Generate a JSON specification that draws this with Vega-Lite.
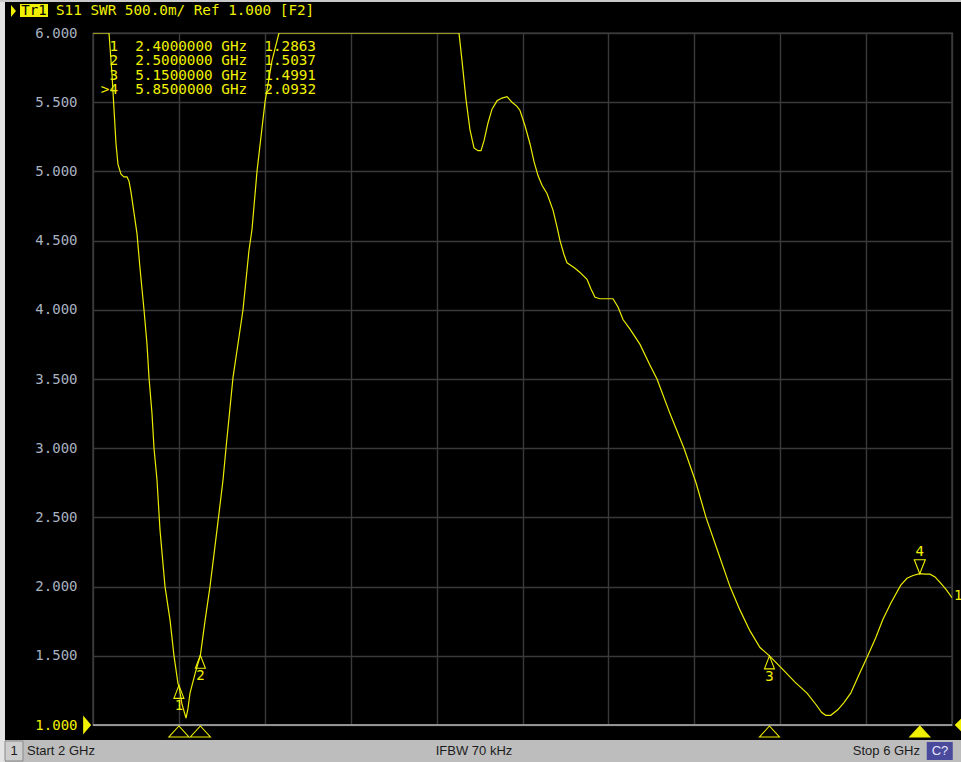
{
  "$schema": "https://vega.github.io/schema/vega-lite/v6.json",
  "width": 859,
  "height": 692,
  "autosize": {"type": "none"},
  "padding": {"left": 93, "top": 33, "right": 9, "bottom": 37},
  "background": "#000000",
  "config": {
    "view": {"stroke": "#8a8a8a", "strokeWidth": 1.2},
    "text": {"font": "DejaVu Sans Mono"}
  },
  "datasets": {
    "trace": [
      {"f": 2.0, "swr": 6.0}, {"f": 2.0745, "swr": 6.0}, {"f": 2.0885, "swr": 5.7}, {"f": 2.0978, "swr": 5.45},
      {"f": 2.1071, "swr": 5.2}, {"f": 2.1164, "swr": 5.05}, {"f": 2.1304, "swr": 4.98}, {"f": 2.1444, "swr": 4.96},
      {"f": 2.1583, "swr": 4.96}, {"f": 2.1676, "swr": 4.93}, {"f": 2.177, "swr": 4.85}, {"f": 2.1909, "swr": 4.7},
      {"f": 2.2049, "swr": 4.55}, {"f": 2.2189, "swr": 4.3}, {"f": 2.2375, "swr": 4.0}, {"f": 2.2515, "swr": 3.75},
      {"f": 2.2608, "swr": 3.51}, {"f": 2.2747, "swr": 3.25}, {"f": 2.2841, "swr": 3.0}, {"f": 2.298, "swr": 2.77},
      {"f": 2.312, "swr": 2.41}, {"f": 2.3353, "swr": 2.0}, {"f": 2.3586, "swr": 1.76}, {"f": 2.3772, "swr": 1.5},
      {"f": 2.3958, "swr": 1.3}, {"f": 2.4, "swr": 1.2863}, {"f": 2.4144, "swr": 1.15}, {"f": 2.4331, "swr": 1.05},
      {"f": 2.4424, "swr": 1.12}, {"f": 2.4517, "swr": 1.23}, {"f": 2.475, "swr": 1.37}, {"f": 2.5, "swr": 1.5037},
      {"f": 2.5215, "swr": 1.75}, {"f": 2.5448, "swr": 2.0}, {"f": 2.5774, "swr": 2.41}, {"f": 2.6054, "swr": 2.77},
      {"f": 2.6193, "swr": 3.0}, {"f": 2.6519, "swr": 3.51}, {"f": 2.6985, "swr": 4.0}, {"f": 2.7264, "swr": 4.43},
      {"f": 2.7404, "swr": 4.58}, {"f": 2.7637, "swr": 5.0}, {"f": 2.8009, "swr": 5.5}, {"f": 2.8335, "swr": 5.8},
      {"f": 2.8661, "swr": 6.0}, {"f": 3.7043, "swr": 6.0}, {"f": 3.7183, "swr": 5.8}, {"f": 3.7369, "swr": 5.52},
      {"f": 3.7555, "swr": 5.3}, {"f": 3.7742, "swr": 5.17}, {"f": 3.7928, "swr": 5.15}, {"f": 3.8068, "swr": 5.15},
      {"f": 3.8207, "swr": 5.22}, {"f": 3.8394, "swr": 5.35}, {"f": 3.858, "swr": 5.45}, {"f": 3.8813, "swr": 5.51},
      {"f": 3.9045, "swr": 5.53}, {"f": 3.9278, "swr": 5.54}, {"f": 3.9511, "swr": 5.5}, {"f": 3.9744, "swr": 5.47},
      {"f": 3.9884, "swr": 5.44}, {"f": 4.0116, "swr": 5.33}, {"f": 4.0349, "swr": 5.2}, {"f": 4.0536, "swr": 5.07},
      {"f": 4.0722, "swr": 4.97}, {"f": 4.0908, "swr": 4.9}, {"f": 4.1141, "swr": 4.84}, {"f": 4.142, "swr": 4.72},
      {"f": 4.1607, "swr": 4.6}, {"f": 4.1746, "swr": 4.5}, {"f": 4.1932, "swr": 4.4}, {"f": 4.2072, "swr": 4.34},
      {"f": 4.2259, "swr": 4.32}, {"f": 4.2445, "swr": 4.3}, {"f": 4.2678, "swr": 4.27}, {"f": 4.3004, "swr": 4.22},
      {"f": 4.319, "swr": 4.15}, {"f": 4.3376, "swr": 4.09}, {"f": 4.3609, "swr": 4.08}, {"f": 4.4214, "swr": 4.08},
      {"f": 4.4447, "swr": 4.02}, {"f": 4.468, "swr": 3.93}, {"f": 4.5006, "swr": 3.86}, {"f": 4.5472, "swr": 3.75},
      {"f": 4.5937, "swr": 3.6}, {"f": 4.6263, "swr": 3.5}, {"f": 4.6868, "swr": 3.25}, {"f": 4.752, "swr": 3.0},
      {"f": 4.8079, "swr": 2.75}, {"f": 4.8545, "swr": 2.5}, {"f": 4.9104, "swr": 2.25}, {"f": 4.9662, "swr": 2.0},
      {"f": 5.0128, "swr": 1.83}, {"f": 5.0594, "swr": 1.68}, {"f": 5.1059, "swr": 1.56}, {"f": 5.15, "swr": 1.4991},
      {"f": 5.213, "swr": 1.4}, {"f": 5.2689, "swr": 1.31}, {"f": 5.3248, "swr": 1.23}, {"f": 5.3656, "swr": 1.15},
      {"f": 5.3935, "swr": 1.09}, {"f": 5.4121, "swr": 1.07}, {"f": 5.4354, "swr": 1.07}, {"f": 5.468, "swr": 1.11},
      {"f": 5.4959, "swr": 1.16}, {"f": 5.5285, "swr": 1.23}, {"f": 5.5658, "swr": 1.36}, {"f": 5.6077, "swr": 1.5},
      {"f": 5.6449, "swr": 1.63}, {"f": 5.6775, "swr": 1.76}, {"f": 5.7148, "swr": 1.88}, {"f": 5.7614, "swr": 2.01},
      {"f": 5.7905, "swr": 2.06}, {"f": 5.8184, "swr": 2.08}, {"f": 5.85, "swr": 2.0932}, {"f": 5.8743, "swr": 2.09},
      {"f": 5.8976, "swr": 2.09}, {"f": 5.9209, "swr": 2.07}, {"f": 5.9441, "swr": 2.03}, {"f": 5.9721, "swr": 1.98},
      {"f": 6.0, "swr": 1.92}
    ],
    "markers": [
      {"marker": 1, "f": 2.4, "swr": 1.2863},
      {"marker": 2, "f": 2.5, "swr": 1.5037},
      {"marker": 3, "f": 5.15, "swr": 1.4991},
      {"marker": 4, "f": 5.85, "swr": 2.0932}
    ]
  },
  "layer": [
    {
      "data": {"name": "trace"},
      "mark": {"type": "line", "color": "#ecec00", "strokeWidth": 1.2, "clip": true},
      "encoding": {
        "x": {"field": "f", "type": "quantitative", "title": null,
          "scale": {"domain": [2, 6], "nice": false, "zero": false},
          "axis": {"title": null, "values": [2, 2.4, 2.8, 3.2, 3.6, 4.0, 4.4, 4.8, 5.2, 5.6, 6],
            "labels": false, "ticks": false, "domain": false, "grid": true,
            "gridColor": "#3a3a3a", "gridWidth": 1.4}},
        "y": {"field": "swr", "type": "quantitative", "title": null,
          "scale": {"domain": [1, 6], "nice": false, "zero": false},
          "axis": {"title": null, "values": [1, 1.5, 2, 2.5, 3, 3.5, 4, 4.5, 5, 5.5, 6],
            "format": ".3f", "ticks": false, "tickSize": 0, "domain": false, "grid": true,
            "gridColor": "#3a3a3a", "gridWidth": 1.4, "labelPadding": 16,
            "labelFont": "DejaVu Sans Mono", "labelFontSize": 14,
            "labelColor": {"condition": {"test": "datum.value === 1", "value": "#f0f000"}, "value": "#a9b2c0"}}}
      }
    },
    {
      "data": {"values": [{}]},
      "mark": {"type": "rule", "color": "#b4b4b4", "strokeWidth": 1.5},
      "encoding": {
        "x": {"datum": 2}, "x2": {"datum": 6},
        "y": {"datum": 1}
      }
    },
    {
      "data": {"name": "markers"},
      "transform": [{"filter": "datum.marker < 4"}],
      "mark": {"type": "point", "shape": "M0,0L-0.5,1.3L0.5,1.3Z", "size": 400, "filled": false, "stroke": "#f0f000", "strokeWidth": 1.1, "opacity": 1},
      "encoding": {
        "x": {"field": "f", "type": "quantitative", "title": null},
        "y": {"field": "swr", "type": "quantitative", "title": null}
      }
    },
    {
      "data": {"name": "markers"},
      "transform": [{"filter": "datum.marker < 4"}],
      "mark": {"type": "text", "dy": 21, "fontSize": 14, "color": "#f0f000", "baseline": "middle"},
      "encoding": {
        "x": {"field": "f", "type": "quantitative", "title": null},
        "y": {"field": "swr", "type": "quantitative", "title": null},
        "text": {"field": "marker"}
      }
    },
    {
      "data": {"name": "markers"},
      "transform": [{"filter": "datum.marker == 4"}],
      "mark": {"type": "point", "shape": "M0,0L-0.55,-1.4L0.55,-1.4Z", "size": 400, "filled": false, "stroke": "#f0f000", "strokeWidth": 1.1, "opacity": 1},
      "encoding": {
        "x": {"field": "f", "type": "quantitative", "title": null},
        "y": {"field": "swr", "type": "quantitative", "title": null}
      }
    },
    {
      "data": {"name": "markers"},
      "transform": [{"filter": "datum.marker == 4"}],
      "mark": {"type": "text", "dy": -22, "fontSize": 14, "color": "#f0f000", "baseline": "middle"},
      "encoding": {
        "x": {"field": "f", "type": "quantitative", "title": null},
        "y": {"field": "swr", "type": "quantitative", "title": null},
        "text": {"field": "marker"}
      }
    },
    {
      "data": {"name": "markers"},
      "mark": {"type": "point", "shape": "M0,0.1L-1,1.2L1,1.2Z", "size": 400, "stroke": "#f0f000", "strokeWidth": 1.1, "opacity": 1, "clip": false},
      "encoding": {
        "x": {"field": "f", "type": "quantitative", "title": null},
        "y": {"datum": 1},
        "fill": {"condition": {"test": "datum.marker == 4", "value": "#f0f000"}, "value": "transparent"}
      }
    },
    {
      "data": {"values": [{}]},
      "mark": {"type": "text", "align": "right", "baseline": "top", "fontSize": 14.3, "lineHeight": 14.3, "color": "#f0f000",
        "text": ["1\u00a0\u00a02.4000000\u00a0GHz\u00a0\u00a01.2863", "2\u00a0\u00a02.5000000\u00a0GHz\u00a0\u00a01.5037", "3\u00a0\u00a05.1500000\u00a0GHz\u00a0\u00a01.4991", ">4\u00a0\u00a05.8500000\u00a0GHz\u00a0\u00a02.0932"]},
      "encoding": {"x": {"datum": 3.0384}, "y": {"datum": 5.9494}}
    },
    {
      "data": {"values": [{}]},
      "mark": {"type": "text", "align": "left", "baseline": "middle", "fontSize": 14, "color": "#f0f000", "text": "1", "clip": false},
      "encoding": {"x": {"datum": 6.0}, "y": {"datum": 1.93}, "xOffset": {"value": 2}}
    },
    {
      "data": {"values": [{}]},
      "mark": {"type": "point", "shape": "M-0.2,0L-1.1,-1.05L-1.1,1.05Z", "size": 324, "filled": true, "color": "#f0f000", "opacity": 1, "clip": false},
      "encoding": {"x": {"datum": 2}, "y": {"datum": 1}}
    },
    {
      "data": {"values": [{}]},
      "mark": {"type": "point", "shape": "M0.3,0L1.3,-1L1.3,1Z", "size": 324, "filled": true, "color": "#f0f000", "opacity": 1, "clip": false},
      "encoding": {"x": {"datum": 6}, "y": {"datum": 1}}
    },
    {
      "data": {"values": [{}]},
      "mark": {"type": "point", "shape": "M0,0L-1,-1.2L-1,1.2Z", "size": 100, "filled": true, "color": "#f0f000", "opacity": 1, "clip": false},
      "encoding": {"x": {"datum": 1.6414}, "y": {"datum": 6.159}}
    },
    {
      "data": {"values": [{}]},
      "mark": {"type": "rect", "color": "#f0f000", "clip": false},
      "encoding": {"x": {"datum": 1.6601}, "x2": {"datum": 1.7905}, "y": {"datum": 6.2095}, "y2": {"datum": 6.1156}}
    },
    {
      "data": {"values": [{}]},
      "mark": {"type": "text", "align": "center", "baseline": "middle", "fontSize": 14, "color": "#000000", "text": "Tr1", "clip": false},
      "encoding": {"x": {"datum": 1.7253}, "y": {"datum": 6.159}}
    },
    {
      "data": {"values": [{}]},
      "mark": {"type": "text", "align": "left", "baseline": "middle", "fontSize": 14.3, "color": "#f0f000", "text": "S11 SWR 500.0m/ Ref 1.000 [F2]", "clip": false},
      "encoding": {"x": {"datum": 1.8277}, "y": {"datum": 6.159}}
    },
    {
      "data": {"values": [{}]},
      "mark": {"type": "rect", "color": "#bdbdbd", "clip": false},
      "encoding": {"x": {"datum": 1.5669}, "x2": {"datum": 6.0419}, "y": {"datum": 0.8916}, "y2": {"datum": 0.7327}}
    },
    {
      "data": {"values": [{}]},
      "mark": {"type": "rect", "color": "#e4e4e4", "clip": false},
      "encoding": {"x": {"datum": 1.5669}, "x2": {"datum": 1.5902}, "y": {"datum": 6.2384}, "y2": {"datum": 0.7327}}
    },
    {
      "data": {"values": [{}]},
      "mark": {"type": "rect", "color": "#c8c8c8", "clip": false},
      "encoding": {"x": {"datum": 1.5669}, "x2": {"datum": 6.0419}, "y": {"datum": 6.2384}, "y2": {"datum": 6.2240}}
    },
    {
      "data": {"values": [{}]},
      "mark": {"type": "rect", "color": "#cdcdcd", "stroke": "#8a8a8a", "strokeWidth": 1, "clip": false},
      "encoding": {"x": {"datum": 1.5902}, "x2": {"datum": 1.6740}, "y": {"datum": 0.8844}, "y2": {"datum": 0.7399}}
    },
    {
      "data": {"values": [{}]},
      "mark": {"type": "rect", "color": "#4a4a9c", "clip": false},
      "encoding": {"x": {"datum": 5.8824}, "x2": {"datum": 6.0035}, "y": {"datum": 0.8772}, "y2": {"datum": 0.7471}}
    },
    {
      "data": {"values": [{}]},
      "mark": {"type": "text", "align": "center", "baseline": "middle", "font": "Liberation Sans", "fontSize": 13, "color": "#1c1c1c", "text": "1", "clip": false},
      "encoding": {"x": {"datum": 1.6321}, "y": {"datum": 0.8121}}
    },
    {
      "data": {"values": [{}]},
      "mark": {"type": "text", "align": "left", "baseline": "middle", "font": "Liberation Sans", "fontSize": 13, "color": "#1c1c1c", "text": "Start 2 GHz", "clip": false},
      "encoding": {"x": {"datum": 1.6927}, "y": {"datum": 0.8121}}
    },
    {
      "data": {"values": [{}]},
      "mark": {"type": "text", "align": "center", "baseline": "middle", "font": "Liberation Sans", "fontSize": 13, "color": "#1c1c1c", "text": "IFBW 70 kHz", "clip": false},
      "encoding": {"x": {"datum": 3.7742}, "y": {"datum": 0.8121}}
    },
    {
      "data": {"values": [{}]},
      "mark": {"type": "text", "align": "right", "baseline": "middle", "font": "Liberation Sans", "fontSize": 13, "color": "#1c1c1c", "text": "Stop 6 GHz", "clip": false},
      "encoding": {"x": {"datum": 5.851}, "y": {"datum": 0.8121}}
    },
    {
      "data": {"values": [{}]},
      "mark": {"type": "text", "align": "center", "baseline": "middle", "font": "Liberation Sans", "fontSize": 13, "color": "#e6e6ff", "text": "C?", "clip": false},
      "encoding": {"x": {"datum": 5.9441}, "y": {"datum": 0.8121}}
    }
  ]
}
